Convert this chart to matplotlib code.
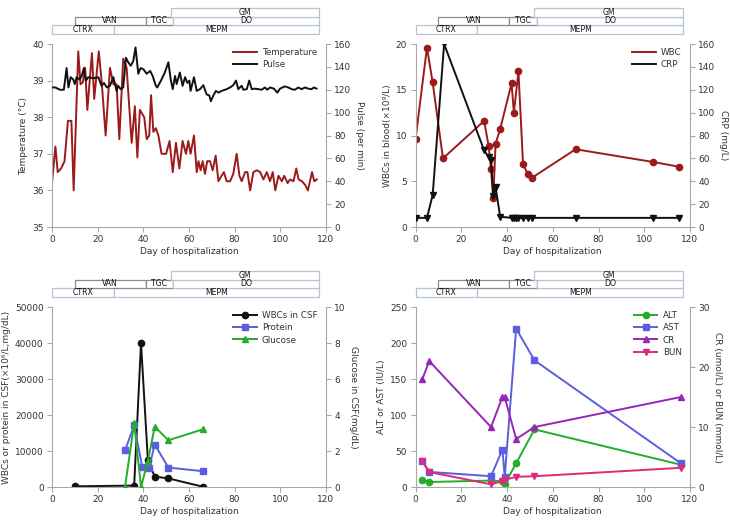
import matplotlib
matplotlib.use("Agg")
import matplotlib.pyplot as plt
from matplotlib.patches import Rectangle
from matplotlib.transforms import blended_transform_factory

plt.rcParams['font.family'] = ['DejaVu Sans']
plt.rcParams['font.size'] = 6.5

# antibiotic regimens: name, first day, last day, row (0 = lowest)
regimens = [("CTRX", 0, 27, 0), ("MEPM", 27, 117, 0),
            ("VAN", 10, 41, 1), ("TGC", 41, 53, 1), ("DO", 53, 117, 1),
            ("GM", 52, 117, 2)]

# panel 1: temperature and pulse
temp_days = [0, 1.5, 2.5, 4, 5.5, 7, 8.5, 9.5, 11.5, 12.5, 13.5, 14.5, 15.5, 17.5, 18.5,
             20.5, 21.8, 23.5, 25.4, 26.9, 28.3, 29.5, 31.2, 32.7, 34.9, 36.3, 37.4, 38.5, 40.4, 41.5,
             42.6, 43.4, 44.4, 45.5, 46.6, 48, 50, 51.5, 52.9, 54.3, 55.8, 57.2, 58.7, 59.7, 60.7,
             62.2, 63.4, 64.2, 65.1, 66, 67, 68, 69.2, 70.4, 71.7, 72.9, 74.3, 75.3, 76.5, 78,
             79.4, 80.9, 82.1, 83.1, 84.6, 85.6, 86.8, 88.2, 89.7, 91.2, 92.6, 94.1, 95.5, 96.7, 97.8,
             99.2, 100.7, 101.7, 103.2, 104.3, 105.8, 107, 108, 109.5, 110.9, 112.1, 113.9, 114.9, 116]
temp_vals = [36.2, 37.2, 36.5, 36.6, 36.8, 37.9, 37.9, 36.0, 39.8, 38.9, 38.95, 39.35, 38.2, 39.75, 38.5,
             39.8, 38.95, 37.5, 39.35, 38.9, 38.9, 37.4, 39.6, 39.35, 37.3, 38.3, 36.9, 38.2, 38.0, 37.4,
             37.5, 38.6, 37.6, 37.7, 37.5, 37.0, 37.0, 37.35, 36.5, 37.3, 36.6, 37.35, 37.0, 37.35, 37.0,
             37.5, 36.5, 36.8, 36.55, 36.8, 36.45, 36.8, 36.8, 36.55, 36.95, 36.25, 36.4, 36.5, 36.25, 36.25,
             36.45, 37.0, 36.4, 36.25, 36.5, 36.5, 36.0, 36.5, 36.55, 36.5, 36.3, 36.5, 36.25, 36.5, 36.0,
             36.4, 36.25, 36.4, 36.2, 36.3, 36.25, 36.6, 36.3, 36.25, 36.15, 36.0, 36.5, 36.25, 36.3]
pulse_days = [0, 1.5, 3.5, 5.2, 6.4, 7.2, 8.2, 9.3, 10, 10.8, 12, 13, 14, 14.9, 15.9,
              18.1, 20.3, 21.7, 22.8, 24, 25.4, 26.9, 28.3, 29, 30.1, 31.2, 32.4, 33.4, 34.5, 35.6,
              36.6, 37.8, 38.8, 40, 41.5, 43, 44.1, 45.5, 46.1, 48, 49.4, 51, 52, 52.9, 53.9,
              54.6, 56, 57.2, 58.3, 59.3, 60.2, 60.7, 62.2, 63.4, 64.8, 66.3, 67.7, 68.9, 69.6, 70.7,
              71.8, 72.9, 74.3, 76.5, 78, 79.4, 80.6, 81.6, 83.1, 83.8, 85.3, 86.4, 87.5, 88.9, 90.4,
              91.8, 93.3, 94.3, 95.5, 97.2, 98.7, 99.9, 102, 103.5, 105, 106.4, 107.9, 109.3, 110.8, 112.2,
              113.7, 114.7, 115.9]
pulse_vals = [122, 122, 120, 120, 139, 122, 131, 129, 125, 131, 129, 132, 139, 128, 131,
              130, 131, 123.5, 126, 122, 123.5, 131, 119, 123.5, 120.5, 122, 148, 144, 141, 145,
              157, 134, 139, 138, 134, 136.5, 132, 123.5, 122, 129, 135, 144, 129, 120.5, 132,
              125, 135, 123.5, 131, 126, 128, 119, 131, 119, 120.5, 124, 116, 115, 110, 115,
              119, 117.5, 119, 120.5, 122, 124, 128, 120.5, 123.5, 120, 120.5, 128, 120.5, 121, 120.5,
              120, 122, 120, 122, 121, 117.5, 121, 123, 122, 120.5, 120, 122, 120.5, 122, 121,
              120.5, 122, 121]

# panel 2: blood WBC and CRP
wbc_days = [0, 5, 7.5, 12, 30, 32, 33, 34, 35, 37, 42, 43, 45, 47, 49, 51, 70, 104, 115]
wbc_vals = [9.6, 19.6, 15.8, 7.5, 11.6, 8.8, 6.3, 3.2, 9.1, 10.7, 15.7, 12.5, 17.0, 6.9, 5.8, 5.4, 8.5, 7.1, 6.6]
crp_days = [0, 5, 7.5, 12.5, 30, 32, 33, 34, 35, 37, 42, 43, 44, 45, 47, 49, 51, 70, 104, 115]
crp_vals = [8, 8, 28, 160, 67, 61, 59, 27, 35, 9, 8, 8, 8, 8, 8, 8, 8, 8, 8, 8]

# panel 3: CSF
csf_wbc_days = [10, 36, 39, 42, 45, 51, 66]
csf_wbc_vals = [200, 400, 40000, 7500, 2900, 2400, 100]
protein_days = [32, 36, 39.5, 42.5, 45, 51, 66]
protein_vals = [10200, 17100, 5700, 5300, 11800, 5400, 4400]
glucose_days = [32, 36, 39, 42, 45, 51, 66]
glucose_vals = [0, 3.55, 0, 1.45, 3.35, 2.6, 3.2]

# panel 4: liver and kidney
lab_days = [3, 6, 33, 38, 39, 44, 52, 116]
alt_vals = [10, 7, 9, 8, 4, 33, 80, 31]
ast_vals = [36, 21, 15, 52, 14, 220, 176, 33]
cr_vals = [18, 21, 10, 15, 15, 8, 10, 15]
bun_vals = [4.3, 2.5, 0.45, 1.0, 1.2, 1.7, 1.8, 3.2]

RED = '#9c1a1a'
BLACK = '#111111'
BLUE = '#5d5de0'
GREEN = '#24ad2a'
PURPLE = '#9626b8'
MAGENTA = '#dd2a7a'
SPINE = '#a8a8a8'
TEXT = '#333333'

fig = plt.figure(figsize=(7.3, 5.22), dpi=100)
ax1 = fig.add_axes([0.0712, 0.5651, 0.3753, 0.3506])
ax2 = fig.add_axes([0.5692, 0.5651, 0.3760, 0.3506])
ax3 = fig.add_axes([0.0712, 0.0670, 0.3753, 0.3448])
ax4 = fig.add_axes([0.5692, 0.0670, 0.3760, 0.3448])


def style(ax, axr):
    for a in (ax, axr):
        a.spines['top'].set_visible(False)
        for s in a.spines.values():
            s.set_color(SPINE)
        a.tick_params(colors=SPINE, labelcolor=TEXT, length=3.5, labelsize=6.5, pad=2.5)
    ax.spines['right'].set_visible(False)
    axr.spines['left'].set_visible(False)
    axr.spines['bottom'].set_visible(False)
    ax.set_xlim(0, 120)
    ax.set_xticks(range(0, 121, 20))
    ax.set_xlabel("Day of hospitalization", color=TEXT, labelpad=2)


def legend(axr, handles, labels, markers=True):
    lg = axr.legend(handles, labels, loc='upper right', bbox_to_anchor=(0.985, 1.0),
                    frameon=False, fontsize=6.3, handlelength=2.7, handletextpad=0.6,
                    borderaxespad=0.1, labelspacing=0.35)
    if not markers:
        for l in lg.get_lines():
            l.set_marker('')
    for t in lg.get_texts():
        t.set_color(TEXT)


def regimen_bars(ax):
    h_px = ax.get_position().height * fig.get_figheight() * fig.dpi
    tr = blended_transform_factory(ax.transData, ax.transAxes)
    row_h = 8.5 / h_px
    base = 1 + 10.5 / h_px
    for name, d0, d1, row in regimens:
        y0 = base + row * row_h
        ec = '#8c8c8c' if name in ("VAN", "TGC") else '#b8c3d6'
        ax.add_patch(Rectangle((d0, y0), d1 - d0, row_h, transform=tr, clip_on=False,
                               facecolor='white', edgecolor=ec, linewidth=0.9))
        ax.text((d0 + d1) / 2, y0 + row_h / 2, name, transform=tr, ha='center', va='center',
                fontsize=5.6, color='#111111')


# panel 1
ax1r = ax1.twinx()
style(ax1, ax1r)
l1, = ax1.plot(temp_days, temp_vals, color=RED, lw=1.4)
l2, = ax1r.plot(pulse_days, pulse_vals, color=BLACK, lw=1.4)
ax1.set_ylim(35, 40)
ax1r.set_ylim(0, 160)
ax1r.set_yticks(range(0, 161, 20))
ax1.set_ylabel("Temperature (°C)", color=TEXT, labelpad=3)
ax1r.set_ylabel("Pulse (per min)", rotation=270, labelpad=9, color=TEXT)
legend(ax1r, [l1, l2], ["Temperature", "Pulse"])
regimen_bars(ax1)

# panel 2
ax2r = ax2.twinx()
style(ax2, ax2r)
l1, = ax2.plot(wbc_days, wbc_vals, color=RED, lw=1.4, marker='o', ms=4.5)
l2, = ax2r.plot(crp_days, crp_vals, color=BLACK, lw=1.4, marker='v', ms=4.5)
ax2.set_ylim(0, 20)
ax2.set_yticks(range(0, 21, 5))
ax2r.set_ylim(0, 160)
ax2r.set_yticks(range(0, 161, 20))
ax2.set_ylabel("WBCs in blood(×10⁹/L)", color=TEXT, labelpad=3)
ax2r.set_ylabel("CRP (mg/L)", rotation=270, labelpad=9, color=TEXT)
legend(ax2r, [l1, l2], ["WBC", "CRP"], markers=False)
regimen_bars(ax2)

# panel 3
ax3r = ax3.twinx()
style(ax3, ax3r)
l1, = ax3.plot(csf_wbc_days, csf_wbc_vals, color=BLACK, lw=1.4, marker='o', ms=4.5)
l2, = ax3.plot(protein_days, protein_vals, color=BLUE, lw=1.4, marker='s', ms=4.5)
l3, = ax3r.plot(glucose_days, glucose_vals, color=GREEN, lw=1.4, marker='^', ms=4.5)
ax3.set_ylim(0, 50000)
ax3.set_yticks(range(0, 50001, 10000))
ax3r.set_ylim(0, 10)
ax3r.set_yticks(range(0, 11, 2))
ax3.set_ylabel("WBCs or protein in CSF(×10⁶/L;mg/dL)", color=TEXT, labelpad=3)
ax3r.set_ylabel("Glucose in CSF(mg/dL)", rotation=270, labelpad=9, color=TEXT)
legend(ax3r, [l1, l2, l3], ["WBCs in CSF", "Protein", "Glucose"])
regimen_bars(ax3)

# panel 4
ax4r = ax4.twinx()
style(ax4, ax4r)
l1, = ax4.plot(lab_days, alt_vals, color=GREEN, lw=1.4, marker='o', ms=4.5)
l2, = ax4.plot(lab_days, ast_vals, color=BLUE, lw=1.4, marker='s', ms=4.5)
l3, = ax4r.plot(lab_days, cr_vals, color=PURPLE, lw=1.4, marker='^', ms=4.5)
l4, = ax4r.plot(lab_days, bun_vals, color=MAGENTA, lw=1.4, marker='v', ms=4.5)
ax4.set_ylim(0, 250)
ax4.set_yticks(range(0, 251, 50))
ax4r.set_ylim(0, 30)
ax4r.set_yticks(range(0, 31, 10))
ax4.set_ylabel("ALT or AST (IU/L)", color=TEXT, labelpad=3)
ax4r.set_ylabel("CR (umol/L) or BUN (mmol/L)", rotation=270, labelpad=9, color=TEXT)
legend(ax4r, [l1, l2, l3, l4], ["ALT", "AST", "CR", "BUN"])
regimen_bars(ax4)

fig.savefig("out.png", dpi=100)
